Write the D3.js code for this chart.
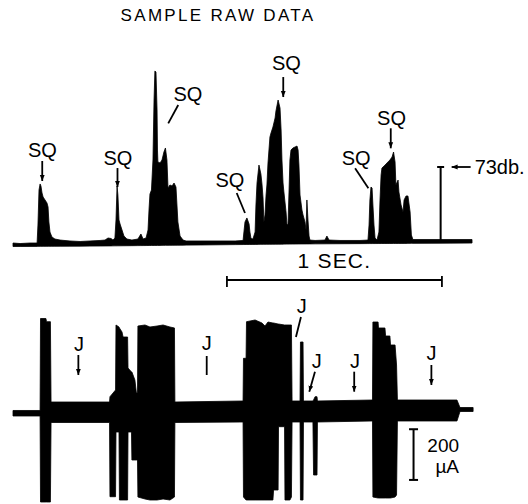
<!DOCTYPE html>
<html><head><meta charset="utf-8">
<script src="https://cdn.jsdelivr.net/npm/d3@7"></script>
<style>
html,body{margin:0;padding:0;background:#fff;}
svg{display:block;}
text{font-family:"Liberation Sans",Arial,Helvetica,sans-serif;fill:#000;}
</style>
</head><body>
<svg id="chart" width="528" height="504"></svg>
<script>
// ---- Sound level trace (upper envelope), time in ms, level in dB ----
const soundTime = [0,33,79,112,116,121,126,130,135,140,149,158,163,167,172,181,195,219,265,312,358,405,428,442,456,465,474,479,484,488,493,498,507,516,530,553,581,595,605,619,628,633,637,644,651,656,660,665,670,672,674,684,693,702,709,716,721,730,740,749,758,767,777,791,805,870,963,1033,1070,1074,1079,1088,1098,1102,1107,1116,1126,1130,1135,1144,1153,1158,1163,1167,1172,1177,1181,1186,1195,1200,1209,1219,1223,1233,1242,1247,1251,1256,1260,1270,1274,1279,1284,1288,1293,1302,1312,1321,1326,1330,1335,1344,1349,1358,1363,1367,1372,1377,1381,1405,1451,1460,1470,1521,1614,1651,1656,1660,1665,1670,1674,1679,1684,1693,1702,1707,1712,1716,1726,1735,1744,1753,1763,1770,1777,1781,1791,1795,1805,1814,1819,1828,1837,1847,1853,1860,1986,2135];
const soundLevel = [-1.0,-1.5,-1.0,-1.0,16.5,50.6,56.5,54.5,47.7,43.8,40.9,38.0,34.1,19.5,9.7,4.9,2.9,1.9,1.0,0.5,1.0,1.5,1.9,3.9,3.4,1.9,3.9,21.4,54.5,45.7,21.4,17.5,11.7,5.8,2.9,1.9,2.9,7.8,2.9,3.9,11.7,33.1,46.7,50.6,79.8,138.2,166.4,165.5,128.5,89.5,77.9,76.9,79.8,87.6,91.5,79.8,52.6,55.5,54.5,57.4,53.5,19.5,5.8,1.9,1.0,1.0,1.0,1.0,1.5,9.7,19.5,23.4,17.5,9.7,3.4,2.9,9.7,36.0,57.4,74.9,66.2,56.5,42.8,19.5,26.3,45.7,55.5,76.9,102.2,106.1,111.9,120.7,127.5,138.2,130.4,109.0,79.8,57.4,48.7,29.2,17.5,16.5,50.6,79.8,89.5,91.5,92.5,93.4,89.5,74.9,45.7,31.1,26.3,19.5,11.7,40.9,21.4,5.8,1.9,1.5,1.9,5.8,1.9,1.5,1.5,1.9,16.5,40.9,53.5,52.6,36.0,16.5,3.9,1.9,9.7,40.9,65.2,72.0,74.0,75.9,77.9,79.8,82.7,87.6,77.9,55.5,60.3,48.7,36.0,29.2,40.9,44.8,44.8,29.2,6.8,2.4,2.4,2.4];
// lower edge of the sound trace
const soundFloorTime = [0,405,870,1335,2135];
const soundFloorLevel = [-4.4,-3.9,-2.9,-1.9,-1.0];

// ---- Jamming current trace, time in ms, current in µA ----
const currentTime = [0,126,128,153,156,174,177,449,451,477,479,493,495,507,512,533,535,551,553,567,574,579,581,614,637,670,698,730,751,753,1070,1072,1084,1086,1126,1158,1172,1186,1209,1212,1233,1235,1263,1265,1288,1295,1298,1335,1337,1349,1351,1395,1398,1405,1414,1416,1672,1674,1698,1700,1730,1733,1753,1756,1777,1784,1788,2065,2079,2140];
const currentUpper = [7.9,7.9,370.8,370.8,358.2,358.2,41.4,41.4,62.3,88.8,345.2,337.3,333.4,317.6,297.8,297.8,175.6,159.8,159.8,128.2,76.9,76.9,341.2,345.2,337.3,341.2,345.2,337.3,333.4,41.4,45.4,213.8,213.8,358.2,364.9,353.1,341.2,357.0,353.1,353.1,349.1,349.1,345.2,345.2,345.2,345.2,45.4,45.4,278.1,278.1,45.4,45.4,49.3,62.3,62.3,45.4,49.3,357.0,357.0,333.4,333.4,301.8,301.8,266.3,266.3,187.4,49.3,49.3,19.7,19.7];
const currentLower = [-13.8,-13.8,-353.1,-353.1,-353.1,-353.1,-39.5,-39.5,-332.2,-332.2,-76.9,-76.9,-345.2,-345.2,-345.2,-345.2,-76.9,-76.9,-187.4,-187.4,-187.4,-187.4,-333.4,-341.2,-345.2,-345.2,-341.2,-345.2,-333.4,-39.5,-37.5,-333.4,-345.2,-345.2,-345.2,-345.2,-345.2,-345.2,-345.2,-305.7,-305.7,-56.0,-56.0,-345.2,-345.2,-333.4,-37.5,-37.5,-345.2,-345.2,-37.5,-37.5,-246.6,-246.6,-246.6,-37.5,-33.5,-333.4,-337.3,-337.3,-337.3,-337.3,-337.3,-337.3,-333.4,-325.5,-33.5,-33.5,3.9,3.9];

// ---- Annotations ----
const title = "SAMPLE RAW DATA";
const sqTime = [136,486,722,1079,1257,1653,1757];
const sqLevel = [59.4,53.5,115.5,28.2,141.1,52.3,91.2];
const jTime = [304,901,1316,1378,1587,1946];
const jCurrent = [147.9,147.9,297.8,82.1,82.1,108.5];
const dbBarTime = 1989, dbBarLevels = [0,73], dbLabel = "73db.";
const uaBarTime = 1863, uaBarCurrents = [-66,-266], uaLabel = ["200","µA"];
const secBarTimes = [995,1995], secLabel = "1 SEC.";

// layout helpers (pixel offsets: tail dx,dy ; text dx,dy ; arrowhead)
const sqStyle = [
  {tail:[0,-20], txt:[0.2,-24], head:true},
  {tail:[0,-19], txt:[0.5,-22], head:true},
  {tail:[10,-18.3], txt:[19.7,-22.3], head:false},
  {tail:[-8.3,-20], txt:[-15,-26], head:false},
  {tail:[0,-20], txt:[3.2,-27], head:true},
  {tail:[-13.3,-20], txt:[-12.3,-23.3], head:false},
  {tail:[0,-20], txt:[0.8,-23.3], head:true}
];
const jStyle = [
  {tail:[0,-20], txt:[0.7,-24], head:true},
  {tail:[0,-19], txt:[0,-25], head:false},
  {tail:[5,-20], txt:[5.7,-24], head:false},
  {tail:[5.7,-20], txt:[7.4,-23.7], head:true},
  {tail:[0,-20], txt:[0.7,-23.7], head:true},
  {tail:[0,-20], txt:[0,-25], head:true}
];

const svg = d3.select("#chart");
const x = d3.scaleLinear().domain([0,1000]).range([13,228]);
const yTop = d3.scaleLinear().domain([0,73]).range([242,167]);
const yBot = d3.scaleLinear().domain([0,200]).range([412.5,361.8]);
const floorAt = d3.scaleLinear().domain(soundFloorTime).range(soundFloorLevel);

svg.append("defs").append("marker")
  .attr("id","ah").attr("viewBox","0 0 6 6").attr("refX",6).attr("refY",3)
  .attr("markerWidth",6).attr("markerHeight",6).attr("markerUnits","userSpaceOnUse")
  .attr("orient","auto")
  .append("path").attr("d","M0,0.6 L6,3 L0,5.4 Z").attr("fill","#000");

// title
svg.append("text").attr("x",218).attr("y",21).attr("text-anchor","middle")
  .attr("font-size",17).attr("letter-spacing",2.3).text(title);

// sound trace
const soundData = soundTime.map((t,i)=>({t, v:soundLevel[i]}));
svg.append("path").datum(soundData)
  .attr("d", d3.area().x(d=>x(d.t)).y0(d=>yTop(floorAt(d.t))).y1(d=>yTop(d.v)))
  .attr("fill","#000").attr("stroke","#000").attr("stroke-width",0.8).attr("stroke-linejoin","round");

// current trace
const curData = currentTime.map((t,i)=>({t, hi:currentUpper[i], lo:currentLower[i]}));
svg.append("path").datum(curData)
  .attr("d", d3.area().x(d=>x(d.t)).y0(d=>yBot(d.lo)).y1(d=>yBot(d.hi)))
  .attr("fill","#000").attr("stroke","#000").attr("stroke-width",0.8).attr("stroke-linejoin","round");

function annotate(px, py, st, label){
  svg.append("line").attr("x1",px+st.tail[0]).attr("y1",py+st.tail[1])
    .attr("x2",px).attr("y2",py).attr("stroke","#000").attr("stroke-width",1.8)
    .attr("marker-end", st.head ? "url(#ah)" : null);
  svg.append("text").attr("x",px+st.txt[0]).attr("y",py+st.txt[1])
    .attr("text-anchor","middle").attr("font-size",20).text(label);
}
sqTime.forEach((t,i)=>annotate(x(t), yTop(sqLevel[i]), sqStyle[i], "SQ"));
jTime.forEach((t,i)=>annotate(x(t), yBot(jCurrent[i]), jStyle[i], "J"));

// 73 dB scale bar
const bx = x(dbBarTime);
svg.append("line").attr("x1",bx).attr("x2",bx).attr("y1",yTop(dbBarLevels[0])).attr("y2",yTop(dbBarLevels[1]))
  .attr("stroke","#000").attr("stroke-width",2);
svg.append("line").attr("x1",bx-3.5).attr("x2",bx+3.5).attr("y1",yTop(dbBarLevels[1])).attr("y2",yTop(dbBarLevels[1]))
  .attr("stroke","#000").attr("stroke-width",2);
svg.append("line").attr("x1",bx+30).attr("x2",bx+11).attr("y1",yTop(dbBarLevels[1])).attr("y2",yTop(dbBarLevels[1]))
  .attr("stroke","#000").attr("stroke-width",1.8).attr("marker-end","url(#ah)");
svg.append("text").attr("x",bx+34).attr("y",yTop(dbBarLevels[1])+7).attr("font-size",20).text(dbLabel);

// 1 SEC bar
const sy = 280;
svg.append("line").attr("x1",x(secBarTimes[0])).attr("x2",x(secBarTimes[1])).attr("y1",sy).attr("y2",sy)
  .attr("stroke","#000").attr("stroke-width",1.8);
secBarTimes.forEach(t=>svg.append("line").attr("x1",x(t)).attr("x2",x(t)).attr("y1",sy-4).attr("y2",sy+7)
  .attr("stroke","#000").attr("stroke-width",1.8));
svg.append("text").attr("x",(x(secBarTimes[0])+x(secBarTimes[1]))/2).attr("y",sy-12)
  .attr("text-anchor","middle").attr("font-size",21).attr("letter-spacing",1.2).text(secLabel);

// 200 µA scale bar
const ux = x(uaBarTime);
svg.append("line").attr("x1",ux).attr("x2",ux).attr("y1",yBot(uaBarCurrents[0])).attr("y2",yBot(uaBarCurrents[1]))
  .attr("stroke","#000").attr("stroke-width",2);
uaBarCurrents.forEach(c=>svg.append("line").attr("x1",ux-4.5).attr("x2",ux+4.5).attr("y1",yBot(c)).attr("y2",yBot(c))
  .attr("stroke","#000").attr("stroke-width",2));
svg.append("text").attr("x",ux+45.5).attr("y",yBot(uaBarCurrents[0])+23).attr("text-anchor","end").attr("font-size",19).text(uaLabel[0]);
svg.append("text").attr("x",ux+45.5).attr("y",yBot(uaBarCurrents[0])+44).attr("text-anchor","end").attr("font-size",19).text(uaLabel[1]);
</script>
</body></html>
